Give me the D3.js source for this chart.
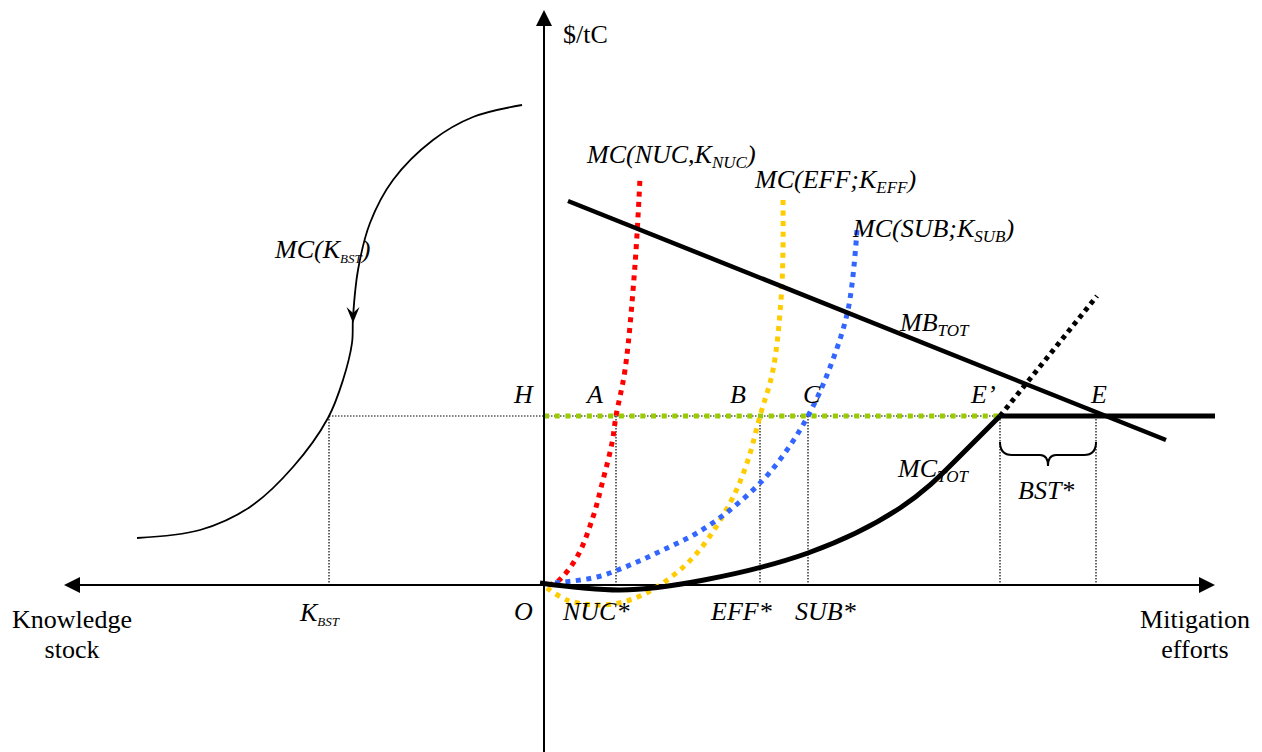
<!DOCTYPE html>
<html>
<head>
<meta charset="utf-8">
<script src="https://cdn.jsdelivr.net/npm/d3@7"></script>
<style>
  body { margin: 0; background: #fff; }
  text { font-family: "Liberation Serif", "Times New Roman", serif; fill: #000; }
  .it { font-style: italic; }
</style>
</head>
<body>
<div id="chart"></div>
<script>
// diagram values, in abstract units (origin O = 0,0)
const H = 16.9;                       // price level of the backstop
const drops = { A: 7.2, B: 21.6, C: 26.4, Eprime: 45.6, E: 55.2, Kbst: -21.5 };

const mcNuc = [[0.4,0],[1.3,0.3],[3.3,2.8],[4.9,6.8],[5.9,10.5],[6.8,14.2],[7.2,16.9],[8.1,21.5],[9.1,32],[9.6,40.7]];
const mcEff = [[0.3,-0.3],[2.3,-1.5],[5.3,-2],[8.6,-1.5],[11.9,0.2],[15.3,3.2],[18.6,8.2],[20.3,12.2],[21.6,16.9],[22.9,21.5],[23.7,28.5],[23.9,33.5],[23.9,38.8]];
const mcSub = [[1.1,0.2],[5.3,0.8],[8.6,2],[11.9,3.5],[15.3,5.2],[18.6,7.5],[21.9,10.5],[24.3,13.5],[26.4,16.9],[28.3,21],[30.4,27.5],[31.3,35.5]];
const mcTot = [[-0.4,0.2],[7.6,-0.5],[16,0.5],[26.4,3.2],[35.6,7.7],[41,12.3],[45.6,16.9]];
const mcTotDotted = [[45.6,16.9],[55.3,28.9]];
const mbTot = [[2.4,38.4],[62.2,14.5]];
const mcKbst = [[-40.7,4.7],[-34.4,5.5],[-29.4,7.8],[-25.1,11.8],[-21.6,16.7],[-20.1,20.5],[-19.2,24.2],[-19.1,26.8],[-18.6,31.5],[-17.4,36.2],[-15.1,40.5],[-11.1,44.5],[-7.1,46.8],[-2.2,48]];
const kbstArrowAt = [-19.1, 26.2];

const width = 1262, height = 752;

const x = d3.scaleLinear().domain([-48, 67.1]).range([64, 1215]);
const y = d3.scaleLinear().domain([-16.7, 57.5]).range([752, 10]);

const svg = d3.select("#chart")
  .append("svg")
    .attr("width", width)
    .attr("height", height);

const line = d3.line().x(d => x(d[0])).y(d => y(d[1]));
const smooth = d3.line().x(d => x(d[0])).y(d => y(d[1])).curve(d3.curveCatmullRom.alpha(0.5));
const natural = d3.line().x(d => x(d[0])).y(d => y(d[1])).curve(d3.curveNatural);

// thin dotted guide lines
svg.append("line")
  .attr("x1", x(drops.Kbst)).attr("x2", x(drops.Eprime))
  .attr("y1", y(H)).attr("y2", y(H))
  .attr("stroke", "#000").attr("stroke-width", 1.2).attr("stroke-dasharray", "1.5,1.5");

Object.values(drops).forEach(v => {
  svg.append("line")
    .attr("x1", x(v)).attr("x2", x(v))
    .attr("y1", y(H)).attr("y2", y(0))
    .attr("stroke", "#000").attr("stroke-width", 1.2).attr("stroke-dasharray", "1.5,1.5");
});

// green backstop price line
svg.append("line")
  .attr("x1", x(0)).attr("x2", x(drops.Eprime))
  .attr("y1", y(H)).attr("y2", y(H))
  .attr("stroke", "#99cc00").attr("stroke-width", 5).attr("stroke-dasharray", "5,5.7");

// axes
svg.append("line")
  .attr("x1", x(-48) + 14).attr("x2", x(67.1) - 14)
  .attr("y1", y(0)).attr("y2", y(0))
  .attr("stroke", "#000").attr("stroke-width", 2);
svg.append("line")
  .attr("x1", x(0)).attr("x2", x(0))
  .attr("y1", height).attr("y2", y(57.5) + 14)
  .attr("stroke", "#000").attr("stroke-width", 2);

const arrowHeads = [
  [[x(0), y(57.5)], [x(0) - 8, y(57.5) + 16], [x(0) + 8, y(57.5) + 16]],
  [[x(-48), y(0)], [x(-48) + 16, y(0) - 8], [x(-48) + 16, y(0) + 8]],
  [[x(67.1), y(0)], [x(67.1) - 16, y(0) - 8], [x(67.1) - 16, y(0) + 8]]
];
svg.selectAll(".head").data(arrowHeads).enter()
  .append("path")
    .attr("d", d => "M" + d.join("L") + "Z")
    .attr("fill", "#000");

// marginal cost curves per option
const dotted = [
  { data: mcNuc, color: "#ff0000" },
  { data: mcEff, color: "#ffcc00" },
  { data: mcSub, color: "#3366ff" }
];
dotted.forEach(c => {
  svg.append("path")
    .attr("d", smooth(c.data))
    .attr("fill", "none")
    .attr("stroke", c.color)
    .attr("stroke-width", 5)
    .attr("stroke-dasharray", "5,5.5");
});

// MB total
svg.append("path")
  .attr("d", line(mbTot))
  .attr("fill", "none").attr("stroke", "#000").attr("stroke-width", 4.5);

// MC total
svg.append("path")
  .attr("d", natural(mcTot))
  .attr("fill", "none").attr("stroke", "#000").attr("stroke-width", 5);
svg.append("path")
  .attr("d", line(mcTotDotted))
  .attr("fill", "none").attr("stroke", "#000").attr("stroke-width", 5).attr("stroke-dasharray", "4.5,4.5");
svg.append("line")
  .attr("x1", x(drops.Eprime)).attr("x2", x(67.1))
  .attr("y1", y(H)).attr("y2", y(H))
  .attr("stroke", "#000").attr("stroke-width", 5);

// knowledge-stock S curve
svg.append("path")
  .attr("d", smooth(mcKbst))
  .attr("fill", "none").attr("stroke", "#000").attr("stroke-width", 1.8);
const ax = x(kbstArrowAt[0]), ay = y(kbstArrowAt[1]);
svg.append("path")
  .attr("d", `M${ax},${ay} L${ax - 6.5},${ay - 16} L${ax},${ay - 10} L${ax + 6.5},${ay - 16} Z`)
  .attr("fill", "#000");

// brace over BST*
const bx1 = x(drops.Eprime), bx2 = x(drops.E), bm = (bx1 + bx2) / 2, by = y(H) + 26;
svg.append("path")
  .attr("d", `M${bx1},${by} Q${bx1},${by + 13} ${bx1 + 12},${by + 13} L${bm - 8},${by + 13} Q${bm},${by + 13} ${bm},${by + 24} Q${bm},${by + 13} ${bm + 8},${by + 13} L${bx2 - 12},${by + 13} Q${bx2},${by + 13} ${bx2},${by}`)
  .attr("fill", "none").attr("stroke", "#000").attr("stroke-width", 2);

// labels: text parts, with optional subscript runs
function label(parts, px, py, italic, subSize) {
  const t = svg.append("text")
    .attr("x", px).attr("y", py)
    .attr("font-size", 26)
    .attr("class", italic ? "it" : null);
  let shifted = false;
  parts.forEach(p => {
    const s = t.append("tspan").text(p.t);
    if (p.sub && !shifted) { s.attr("dy", 5).attr("font-size", subSize || 17); shifted = true; }
    else if (p.sub) { s.attr("font-size", subSize || 17); }
    else if (shifted) { s.attr("dy", -5); shifted = false; }
  });
  return t;
}

label([{ t: "$/tC" }], 563, 43, false);
label([{ t: "MC(NUC,K" }, { t: "NUC", sub: true }, { t: ")" }], 587, 163, true);
label([{ t: "MC(EFF;K" }, { t: "EFF", sub: true }, { t: ")" }], 755, 188, true);
label([{ t: "MC(SUB;K" }, { t: "SUB", sub: true }, { t: ")" }], 853, 237, true);
label([{ t: "MC(K" }, { t: "BST", sub: true, }, { t: ")" }], 275, 258, true, 13);
label([{ t: "MB" }, { t: "TOT", sub: true }], 900, 331, true);
label([{ t: "MC" }, { t: "TOT", sub: true }], 898, 477, true);
label([{ t: "BST*" }], 1018, 499, true);
label([{ t: "H" }], 514, 403, true);
label([{ t: "A" }], 587, 403, true);
label([{ t: "B" }], 730, 403, true);
label([{ t: "C" }], 803, 403, true);
label([{ t: "E’" }], 971, 403, true);
label([{ t: "E" }], 1091, 403, true);
label([{ t: "O" }], 514, 620, true);
label([{ t: "NUC*" }], 563, 620, true);
label([{ t: "EFF*" }], 711, 620, true);
label([{ t: "SUB*" }], 795, 620, true);
label([{ t: "K" }, { t: "BST", sub: true }], 300, 621, true, 13);

svg.append("text").attr("x", 72).attr("y", 628).attr("font-size", 26)
  .attr("text-anchor", "middle").text("Knowledge");
svg.append("text").attr("x", 72).attr("y", 658).attr("font-size", 26)
  .attr("text-anchor", "middle").text("stock");
svg.append("text").attr("x", 1195).attr("y", 628).attr("font-size", 26)
  .attr("text-anchor", "middle").text("Mitigation");
svg.append("text").attr("x", 1195).attr("y", 658).attr("font-size", 26)
  .attr("text-anchor", "middle").text("efforts");
</script>
</body>
</html>
